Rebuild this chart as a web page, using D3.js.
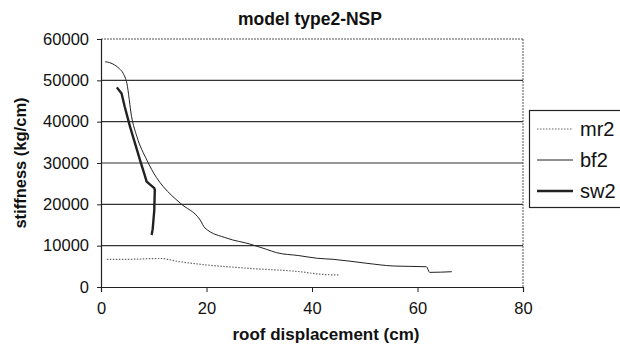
<!DOCTYPE html>
<html>
<head>
<meta charset="utf-8">
<script src="https://cdn.jsdelivr.net/npm/d3@7/dist/d3.min.js"></script>
<style>
html,body{margin:0;padding:0;background:#fff;}
svg{display:block;font-family:"Liberation Sans",Arial,sans-serif;}
</style>
</head>
<body>
<svg id="c" width="620" height="346"></svg>
<script>
const title = "model type2-NSP";
const xTitle = "roof displacement (cm)";
const yTitle = "stiffness (kg/cm)";
const xTicks = [0, 20, 40, 60, 80];
const yTicks = [0, 10000, 20000, 30000, 40000, 50000, 60000];
const seriesNames = ["mr2", "bf2", "sw2"];

const mr2X = [1.1, 5, 11.2, 15, 18.8, 28.2, 37.7, 41.5, 45.3];
const mr2Y = [6700, 6700, 6900, 6100, 5500, 4500, 3700, 3100, 2900];

const bf2X = [0.8, 1.6, 2.6, 3.5, 4.2, 4.9, 5.8, 6.8, 8.7, 10.5, 11.8, 15, 18.8, 19.7, 23.9, 28.2, 31.4, 33.3, 37.5, 41, 44, 50.4, 55.4, 61.7, 62.3, 66.5];
const bf2Y = [54500, 54300, 53700, 52800, 51700, 49300, 41200, 36400, 30700, 26500, 24300, 20300, 16200, 14300, 11800, 10400, 9100, 8300, 7600, 6950, 6700, 5730, 5080, 4900, 3540, 3700];

const sw2X = [3.0, 3.9, 4.5, 5.5, 7.4, 8.3, 8.65, 10.1, 10.2, 10.1, 9.8, 9.6];
const sw2Y = [48300, 46800, 43600, 38800, 30700, 27000, 25500, 23900, 23500, 18600, 14000, 12600];

const svg = d3.select("#c");
const x = d3.scaleLinear().domain([0, 80]).range([101, 523]);
const y = d3.scaleLinear().domain([0, 60000]).range([287, 39]);

// gridlines
svg.append("g").selectAll("line").data(yTicks.filter(v => v > 0 && v < 60000)).join("line")
  .attr("x1", x(0)).attr("x2", x(80)).attr("y1", d => y(d)).attr("y2", d => y(d))
  .attr("stroke", "#333").attr("stroke-width", 1.2);

// top and right dotted border
svg.append("line").attr("x1", x(0)).attr("x2", x(80)).attr("y1", y(60000)).attr("y2", y(60000))
  .attr("stroke", "#555").attr("stroke-width", 1).attr("stroke-dasharray", "2,1");
svg.append("line").attr("x1", x(80)).attr("x2", x(80)).attr("y1", y(60000)).attr("y2", y(0))
  .attr("stroke", "#555").attr("stroke-width", 1).attr("stroke-dasharray", "2,1");

// axes
const yAxis = d3.axisLeft(y).tickValues(yTicks).tickSize(4).tickPadding(8).tickFormat(d3.format("d"));
const gy = svg.append("g").attr("transform", `translate(${x(0)},0)`).call(yAxis);
gy.select(".domain").attr("stroke", "#222").attr("stroke-width", 1.2);
gy.selectAll(".tick line").attr("stroke", "#222");
gy.selectAll(".tick text").attr("font-size", 16.5).attr("fill", "#111").attr("font-family", "Liberation Sans, Arial, sans-serif");

const xAxis = d3.axisBottom(x).tickValues(xTicks).tickSize(5).tickPadding(10).tickFormat(d3.format("d"));
const gx = svg.append("g").attr("transform", `translate(0,${y(0)})`).call(xAxis);
gx.select(".domain").attr("stroke", "#222").attr("stroke-width", 1.2);
gx.selectAll(".tick line").attr("stroke", "#222");
gx.selectAll(".tick text").attr("font-size", 16.5).attr("fill", "#111").attr("font-family", "Liberation Sans, Arial, sans-serif");

// series
const zip = (a, b) => a.map((v, i) => [v, b[i]]);
const styles = {
  mr2: {w: 1.2, c: "#666", dash: "1.5,1.5", curve: d3.curveMonotoneX},
  bf2: {w: 1, c: "#222", dash: null, curve: d3.curveMonotoneX},
  sw2: {w: 2.4, c: "#222", dash: null, curve: d3.curveLinear}
};
const data = {mr2: zip(mr2X, mr2Y), bf2: zip(bf2X, bf2Y), sw2: zip(sw2X, sw2Y)};
seriesNames.forEach(n => {
  const line = d3.line().x(d => x(d[0])).y(d => y(d[1])).curve(styles[n].curve);
  svg.append("path").datum(data[n]).attr("d", line)
    .attr("fill", "none").attr("stroke", styles[n].c).attr("stroke-width", styles[n].w)
    .attr("stroke-dasharray", styles[n].dash).attr("stroke-linejoin", "round");
});

// titles
svg.append("text").attr("x", 310).attr("y", 25).attr("text-anchor", "middle")
  .attr("font-size", 17.5).attr("font-weight", "bold").attr("fill", "#111").text(title);
svg.append("text").attr("x", 326).attr("y", 340).attr("text-anchor", "middle")
  .attr("font-size", 17).attr("font-weight", "bold").attr("fill", "#111").text(xTitle);
svg.append("text").attr("transform", "translate(26,163) rotate(-90)").attr("text-anchor", "middle")
  .attr("font-size", 16.5).attr("font-weight", "bold").attr("fill", "#111").text(yTitle);

// legend
const lg = svg.append("g");
lg.append("rect").attr("x", 529.5).attr("y", 110.5).attr("width", 100).attr("height", 97)
  .attr("fill", "#fff").attr("stroke", "#222").attr("stroke-width", 1.2);
const ly = [129, 160, 191];
seriesNames.forEach((n, i) => {
  lg.append("line").attr("x1", 537).attr("x2", 573).attr("y1", ly[i]).attr("y2", ly[i])
    .attr("stroke", styles[n].c).attr("stroke-width", styles[n].w).attr("stroke-dasharray", styles[n].dash);
  lg.append("text").attr("x", 580).attr("y", ly[i]).attr("dy", "0.36em")
    .attr("font-size", 20).attr("fill", "#111").text(n);
});
</script>
</body>
</html>
